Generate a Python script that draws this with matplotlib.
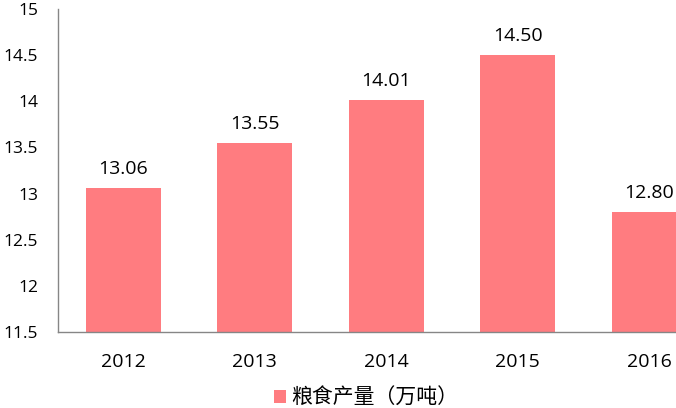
import matplotlib.pyplot as plt

plt.rcParams['font.family'] = ['Open Sans', 'Noto Sans CJK SC', 'DejaVu Sans']

years = ["2012", "2013", "2014", "2015", "2016"]
output = [13.06, 13.55, 14.01, 14.50, 12.80]
series_name = "粮食产量（万吨）"
bar_color = "#FF7C80"

fig = plt.figure(figsize=(6.76, 4.08), dpi=100)
# right edge intentionally past the figure, the last bar is cut off like the original
ax = fig.add_axes([57.5 / 676, (408 - 332) / 408, (715 - 57.5) / 676, (332 - 9) / 408])

x = range(len(years))
bars = ax.bar(x, output, width=0.57, color=bar_color, label=series_name)
for xi, v in zip(x, output):
    ax.text(xi, v + 0.11, f"{v:.2f}", ha="center", va="bottom", fontsize=14, color="#000000")

ax.set_ylim(11.5, 15)
ax.set_xlim(-0.5, 4.5)
ax.set_yticks([11.5, 12, 12.5, 13, 13.5, 14, 14.5, 15])
ax.set_yticklabels(["11.5", "12", "12.5", "13", "13.5", "14", "14.5", "15"])
ax.set_xticks(list(x))
ax.set_xticklabels(years)
ax.tick_params(axis="both", length=0, labelsize=14, colors="#000000")
ax.tick_params(axis="x", pad=15)
ax.tick_params(axis="y", pad=14, labelsize=12.5)

for side in ["top", "right"]:
    ax.spines[side].set_visible(False)
for side in ["left", "bottom"]:
    ax.spines[side].set_color("#868686")
    ax.spines[side].set_linewidth(1)

fig.legend(handles=[bars], labels=[series_name], loc="center", bbox_to_anchor=(366 / 676, 1 - 398 / 408),
           frameon=False, handlelength=0.6, handleheight=0.6, handletextpad=0.25,
           prop={"family": ["Noto Sans CJK SC"], "size": 15})

fig.savefig("out.png", dpi=100)
